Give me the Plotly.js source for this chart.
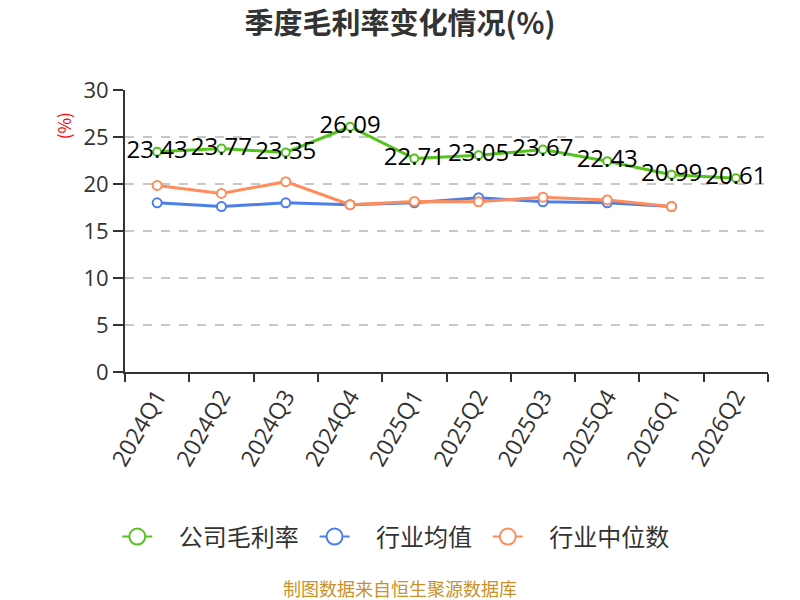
<!DOCTYPE html>
<html><head><meta charset="utf-8">
<script src="https://cdn.plot.ly/plotly-3.0.1.min.js"></script>
<style>body{margin:0;background:#fff}#c{width:800px;height:600px}</style>
</head><body><div id="c"></div>
<script>
const categories = ["2024Q1","2024Q2","2024Q3","2024Q4","2025Q1","2025Q2","2025Q3","2025Q4","2026Q1","2026Q2"];
const companyMargin = [23.43,23.77,23.35,26.09,22.71,23.05,23.67,22.43,20.99,20.61];
const industryMean = [18.0,17.6,18.0,17.8,18.0,18.55,18.1,18.0,17.6];
const industryMedian = [19.85,19.0,20.25,17.8,18.15,18.1,18.6,18.3,17.6];
const seriesNames = ["公司毛利率","行业均值","行业中位数"];
const colors = ["#52c41a","#4e7fe8","#ff8c5a"];
const F = "Noto Sans CJK SC, Noto Sans, sans-serif";
const N = "Open Sans, Noto Sans, sans-serif";

const traces = [
  {x: categories.slice(0, industryMean.length), y: industryMean, mode:"lines+markers", showlegend:false,
   line:{color:colors[1], width:3}, marker:{size:9, color:"#fff", line:{color:colors[1], width:2}}},
  {x: categories.slice(0, industryMedian.length), y: industryMedian, mode:"lines+markers", showlegend:false,
   line:{color:colors[2], width:3}, marker:{size:9, color:"#fff", line:{color:colors[2], width:2}}},
  {x: categories, y: companyMargin, mode:"lines+markers+text", showlegend:false,
   text: companyMargin.map(v=>v.toFixed(2)), textposition:"middle center",
   textfont:{size:24, color:"#000", family:N},
   line:{color:colors[0], width:3}, marker:{size:8, color:"#fff", line:{color:colors[0], width:2}}}
];
const pad = "\u00a0\u00a0\u00a0\u00a0";
const tail = "\u00a0\u00a0";
seriesNames.forEach((n,i)=>traces.push({x:[null], y:[null], name:pad + n + tail, mode:"lines+markers",
  line:{color:colors[i], width:2}, marker:{size:21, color:"#fff", line:{color:colors[i], width:2}}}));

const layout = {
  width:800, height:600, paper_bgcolor:"#fff", plot_bgcolor:"#fff",
  margin:{l:125, r:32, t:90, b:228},
  font:{family:F, color:"#333"},
  title:{text:"<b>季度毛利率变化情况(%)</b>", x:0.5, xanchor:"center", y:0.96, yanchor:"middle",
    font:{size:29, color:"#333", family:F}},
  xaxis:{type:"category", categoryorder:"array", categoryarray:categories, range:[-0.5,9.5],
    tickangle:-60, tickfont:{size:23, color:"#333", family:N}, showline:true, linecolor:"#333", linewidth:2,
    ticks:"outside", tickson:"boundaries", ticklen:8, tickwidth:2, tickcolor:"#333", showgrid:false, zeroline:false},
  yaxis:{range:[0,30], dtick:5, tickfont:{size:22, color:"#333", family:N}, showline:true, linecolor:"#333", linewidth:2,
    ticks:"outside", ticklen:10, tickwidth:2, tickcolor:"#333",
    showgrid:true, gridcolor:"#c8c8c8", griddash:"dash", gridwidth:1.5, zeroline:false},
  legend:{orientation:"h", x:-0.012, xanchor:"left", y:-0.585, yanchor:"middle",
    font:{size:24, color:"#333", family:F}},
  annotations:[
    {text:"(%)", xref:"paper", yref:"paper", x:-0.096, y:0.872, showarrow:false, textangle:-90,
     xanchor:"center", yanchor:"middle", font:{size:17, color:"#ff0000", family:F}},
    {text:"制图数据来自恒生聚源数据库", xref:"paper", yref:"paper", x:0.428, y:-0.765, showarrow:false,
     xanchor:"center", yanchor:"middle", font:{size:18, color:"#c8922a", family:F}}
  ]
};
Plotly.newPlot("c", traces, layout, {displayModeBar:false, staticPlot:true});
</script></body></html>
